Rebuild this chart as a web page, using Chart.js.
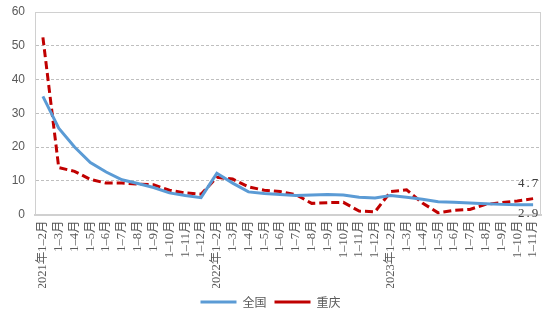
<!DOCTYPE html>
<html>
<head>
<meta charset="utf-8">
<script src="https://cdn.jsdelivr.net/npm/chart.js@4"></script>
<style>
  html, body { margin: 0; padding: 0; background: #fff; }
  #wrap { width: 552px; height: 322px; }
</style>
</head>
<body>
<div id="wrap"><canvas id="c" width="552" height="322"></canvas></div>
<script>
// Monthly cumulative periods, Jan-Feb 2021 through Jan-Nov 2023
const categories = [
  '2021年1–2月', '1–3月', '1–4月', '1–5月', '1–6月', '1–7月', '1–8月', '1–9月', '1–10月', '1–11月', '1–12月',
  '2022年1–2月', '1–3月', '1–4月', '1–5月', '1–6月', '1–7月', '1–8月', '1–9月', '1–10月', '1–11月', '1–12月',
  '2023年1–2月', '1–3月', '1–4月', '1–5月', '1–6月', '1–7月', '1–8月', '1–9月', '1–10月', '1–11月'
];

const nationalValues = [
  35.0, 25.6, 20.0, 15.4, 12.6, 10.3, 9.2, 8.0, 6.4, 5.6, 5.0,
  12.2, 9.3, 6.7, 6.2, 5.9, 5.6, 5.8, 5.9, 5.8, 5.1, 4.9,
  5.6, 5.1, 4.5, 3.8, 3.6, 3.4, 3.2, 3.0, 2.9, 2.9
];

const chongqingValues = [
  52.5, 13.9, 12.8, 10.4, 9.3, 9.3, 9.0, 8.8, 7.2, 6.4, 6.0,
  11.0, 10.5, 8.2, 7.2, 6.8, 5.9, 3.3, 3.5, 3.6, 1.0, 0.8,
  6.8, 7.3, 3.4, 0.5, 1.2, 1.5, 3.0, 3.5, 4.0, 4.7
];

const yTicks = [0, 10, 20, 30, 40, 50, 60];

const textColor = '#595959';
const gridColor = '#bfbfbf';
const frameColor = '#d0d0d0';

// Light frame around the plotting area
const frame = {
  id: 'frame',
  beforeDatasetsDraw(chart) {
    const { ctx, chartArea: a } = chart;
    ctx.save();
    ctx.strokeStyle = frameColor;
    ctx.lineWidth = 1;
    ctx.strokeRect(Math.round(a.left) + 0.5, Math.round(a.top) + 0.5,
                   Math.round(a.right - a.left) - 1, Math.round(a.bottom - a.top));
    ctx.restore();
  }
};

// Value labels on the final period of each series
const endLabels = {
  id: 'endLabels',
  afterDatasetsDraw(chart) {
    const { ctx } = chart;
    ctx.save();
    ctx.font = '13px "Liberation Serif", "DejaVu Serif", serif';
    ctx.fillStyle = '#404040';
    ctx.textAlign = 'center';
    ctx.textBaseline = 'middle';
    try { ctx.letterSpacing = '2px'; } catch (e) {}
    chart.data.datasets.forEach((ds, i) => {
      const meta = chart.getDatasetMeta(i);
      const last = meta.data[meta.data.length - 1];
      const v = ds.data[ds.data.length - 1];
      const dy = ds.labelBelow ? 9 : -15;
      ctx.fillText(v.toFixed(1), last.x - 4, last.y + dy);
    });
    ctx.restore();
  }
};

// Keep tick label overhang from shrinking the plotting area
function noOverhang(scale) {
  scale.paddingTop = 0;
  scale.paddingBottom = 0;
  scale.paddingLeft = 0;
  scale.paddingRight = 0;
}

new Chart(document.getElementById('c'), {
  type: 'line',
  data: {
    labels: categories,
    datasets: [
      {
        label: '全国',
        data: nationalValues,
        borderColor: '#5b9bd5',
        backgroundColor: '#5b9bd5',
        borderWidth: 3,
        pointRadius: 0,
        tension: 0,
        labelBelow: true
      },
      {
        label: '重庆',
        data: chongqingValues,
        borderColor: '#c00000',
        backgroundColor: '#c00000',
        borderWidth: 3,
        borderDash: [8, 4],
        pointRadius: 0,
        tension: 0,
        labelBelow: false
      }
    ]
  },
  options: {
    responsive: false,
    animation: false,
    layout: { padding: { top: 12, right: 11, bottom: 4, left: 0 } },
    plugins: {
      tooltip: { enabled: false },
      legend: {
        position: 'bottom',
        labels: {
          color: textColor,
          font: { family: '"Noto Sans CJK SC", sans-serif', size: 12 },
          usePointStyle: true,
          pointStyle: 'line',
          pointStyleWidth: 36,
          boxHeight: 12,
          padding: 8
        }
      }
    },
    scales: {
      x: {
        type: 'category',
        offset: true,
        grid: { display: false, drawTicks: false },
        border: { color: frameColor, width: 2 },
        ticks: {
          color: textColor,
          font: { family: '"Liberation Serif", "Noto Sans CJK SC", serif', size: 12.5 },
          autoSkip: false,
          maxRotation: 90,
          minRotation: 90,
          padding: 6
        },
        afterFit(scale) { scale.height = 73.5; noOverhang(scale); }
      },
      y: {
        min: 0,
        max: 60,
        afterBuildTicks(scale) { scale.ticks = yTicks.map(v => ({ value: v })); },
        grid: { color: gridColor, drawTicks: false, lineWidth: 1 },
        border: { display: true, color: frameColor, dash: [3, 2] },
        ticks: {
          color: textColor,
          font: { family: '"Liberation Sans", Arial, sans-serif', size: 12 },
          padding: 10
        },
        afterFit(scale) { scale.width = 35; noOverhang(scale); }
      }
    }
  },
  plugins: [frame, endLabels]
});
</script>
</body>
</html>
